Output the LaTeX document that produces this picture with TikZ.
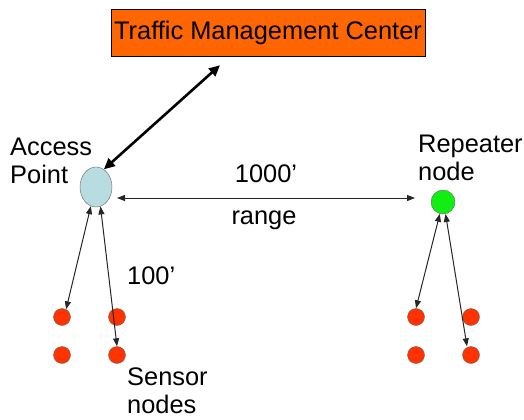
\documentclass[tikz,border=0pt]{standalone}
\usepackage{fontspec}
\setmainfont{Liberation Sans}
\usetikzlibrary{arrows.meta,shapes.geometric}

\definecolor{tmcorange}{HTML}{FF6600}
\definecolor{apblue}{HTML}{B7DDE0}
\definecolor{repgreen}{HTML}{11EE11}
\definecolor{sensred}{HTML}{FF3300}

\begin{document}
\begin{tikzpicture}[x=1bp,y=-1bp,>={Triangle[length=8bp,width=6bp]},
  font=\fontsize{25.5}{28}\selectfont]
\tikzset{sensor/.style={circle,draw=black!60,fill=sensred,minimum size=17bp,inner sep=0pt},
  lbl/.style={align=left,inner sep=0pt,anchor=north west},
  link/.style={<->,line width=1bp,black!85}}
\useasboundingbox (0,0) rectangle (524,419);
% centre and access point
\node[draw,fill=tmcorange,minimum width=314bp,minimum height=47bp,inner sep=0pt] (tmc) at (268,32.5) {Traffic Management Center};
\node[ellipse,draw=black!60,fill=apblue,minimum width=32bp,minimum height=40bp,inner sep=0pt] (ap) at (96,187) {};
\node[circle,draw=black!60,fill=repgreen,minimum size=24bp,inner sep=0pt] (rep) at (443,202) {};
\draw[<->,line width=2.6bp,>={Triangle[length=11bp,width=10bp]}]
  ([xshift=-48bp,yshift=-9bp]tmc.south) -- (ap.66);
% range
\coordinate (rangeL) at (117,198);
\coordinate (rangeR) at (415,198);
\draw[link] (rangeL) -- (rangeR);
\node[inner sep=0pt,anchor=north] (dist) at (266,165) {1000’};
\node[inner sep=0pt,anchor=base] (rng) at (264,224) {range};
% sensors
\foreach \n/\px/\py in {a/62/317,b/117/317,c/62/355,d/117/355,e/416/317,f/471/317,g/416/355,h/471/355}
  \node[sensor] (s\n) at (\px,\py) {};
\draw[link] (ap.255) -- (sa.62);
\draw[link] (ap.283) -- (sd.north);
\draw[link] (rep.255) -- (se.north);
\draw[link] (rep.282) -- ([xshift=-4bp]sh.north);
% labels
\node[lbl] (aplbl) at (10,138) {Access\\Point};
\node[lbl] (replbl) at (418,135) {Repeater\\node};
\node[lbl] (short) at (127,267) {100’};
\node[lbl] (senslbl) at (127,368) {Sensor\\nodes};
\end{tikzpicture}
\end{document}
